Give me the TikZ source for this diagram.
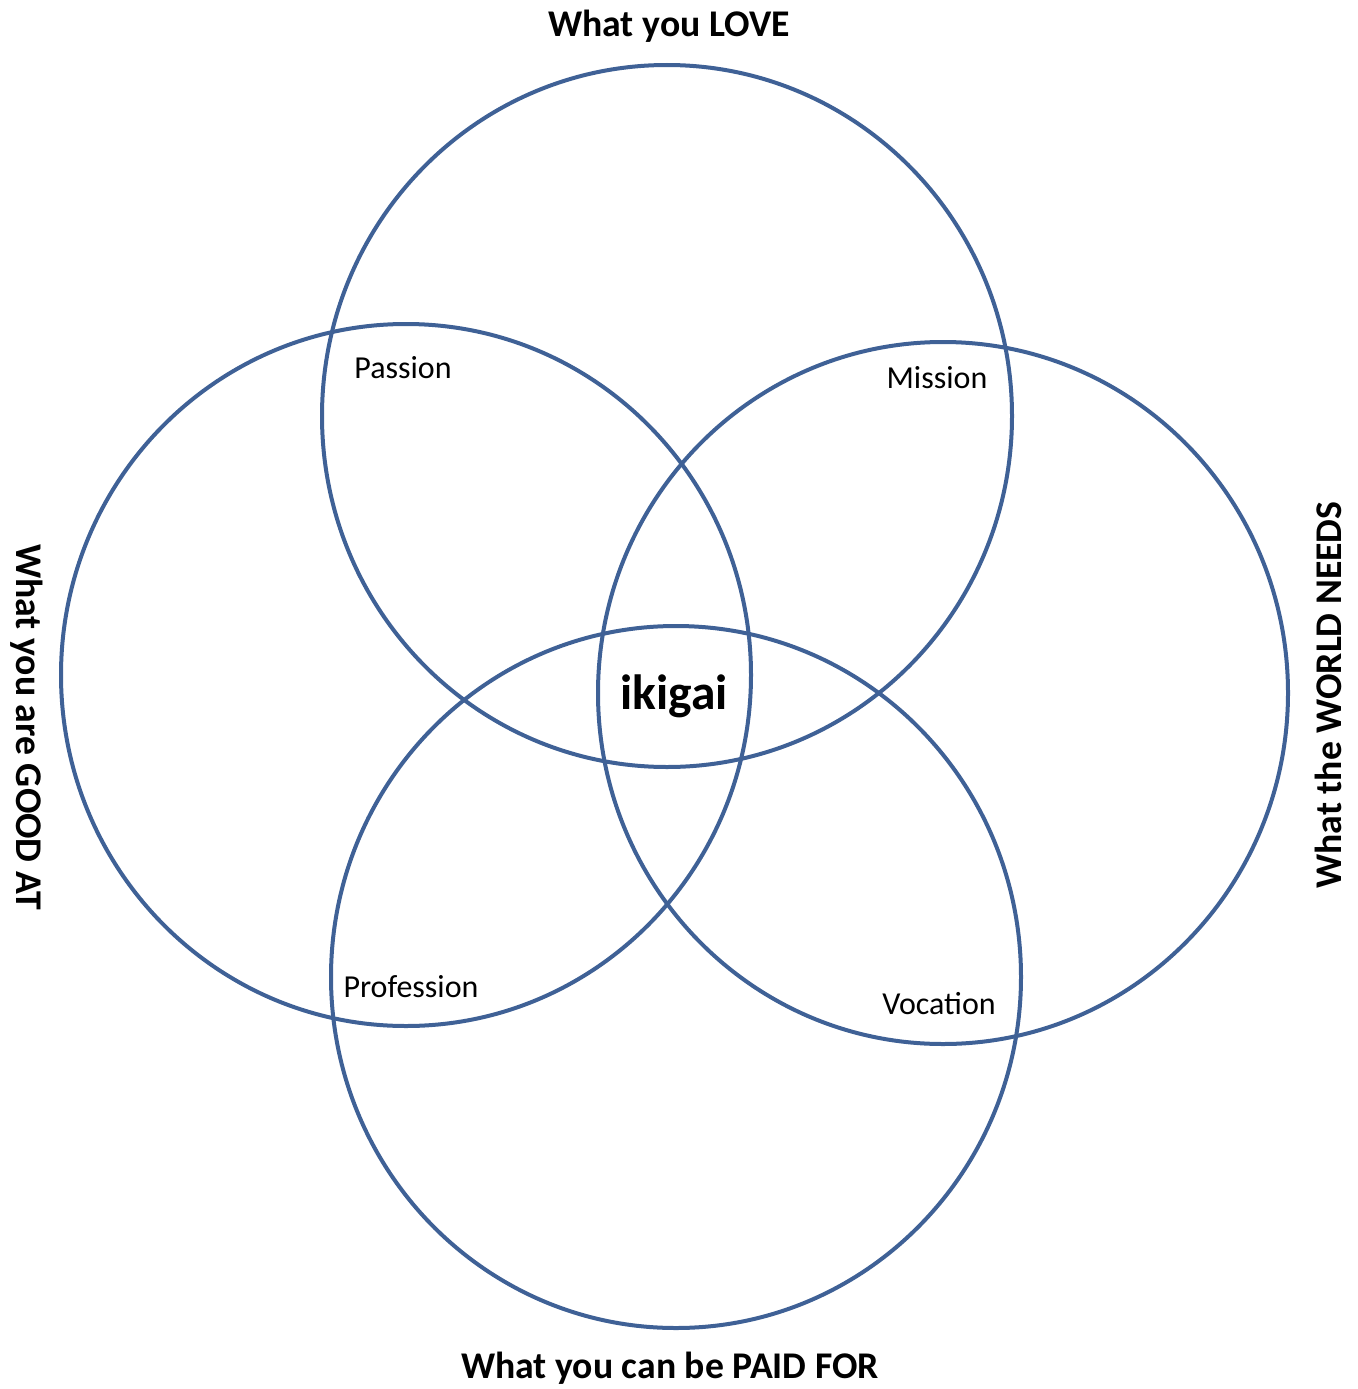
\documentclass[tikz,border=0pt]{standalone}
\usepackage{fontspec}
\setmainfont{Carlito}
\definecolor{ringblue}{HTML}{3F6196}

\begin{document}
\begin{tikzpicture}[x=1pt,y=-1pt,ring/.style={draw=ringblue,line width=4pt},title/.style={font=\fontsize{37.7}{42}\selectfont\bfseries},region/.style={font=\fontsize{32}{36}\selectfont}]
  \useasboundingbox (0,0) rectangle (1357,1389);
  \coordinate (love) at (667,416);
  \coordinate (good) at (406,675);
  \coordinate (needs) at (943,693);
  \coordinate (paid) at (676,977);
  \draw[ring] (love) ellipse [x radius=345pt,y radius=351pt];
  \draw[ring] (good) ellipse [x radius=345pt,y radius=351pt];
  \draw[ring] (needs) ellipse [x radius=345pt,y radius=351pt];
  \draw[ring] (paid) ellipse [x radius=345pt,y radius=351pt];
  \node[title] (lovelabel) at (669,26) {What you LOVE};
  \node[title] (paidlabel) at (670,1368) {What you can be PAID FOR};
  \node[title,rotate=-90] (goodlabel) at (27,727) {What you are GOOD AT};
  \node[title,rotate=90] (needslabel) at (1328,695) {What the WORLD NEEDS};
  \node[region] (passion) at (403,368) {Passion};
  \node[region] (mission) at (937,378) {Mission};
  \node[region] (profession) at (411,987) {Profession};
  \node[region] (vocation) at (939,1004) {Vocation};
  \node[font=\fontsize{49.5}{54}\selectfont\bfseries] (ikigai) at (674,696) {ikigai};
\end{tikzpicture}
\end{document}
